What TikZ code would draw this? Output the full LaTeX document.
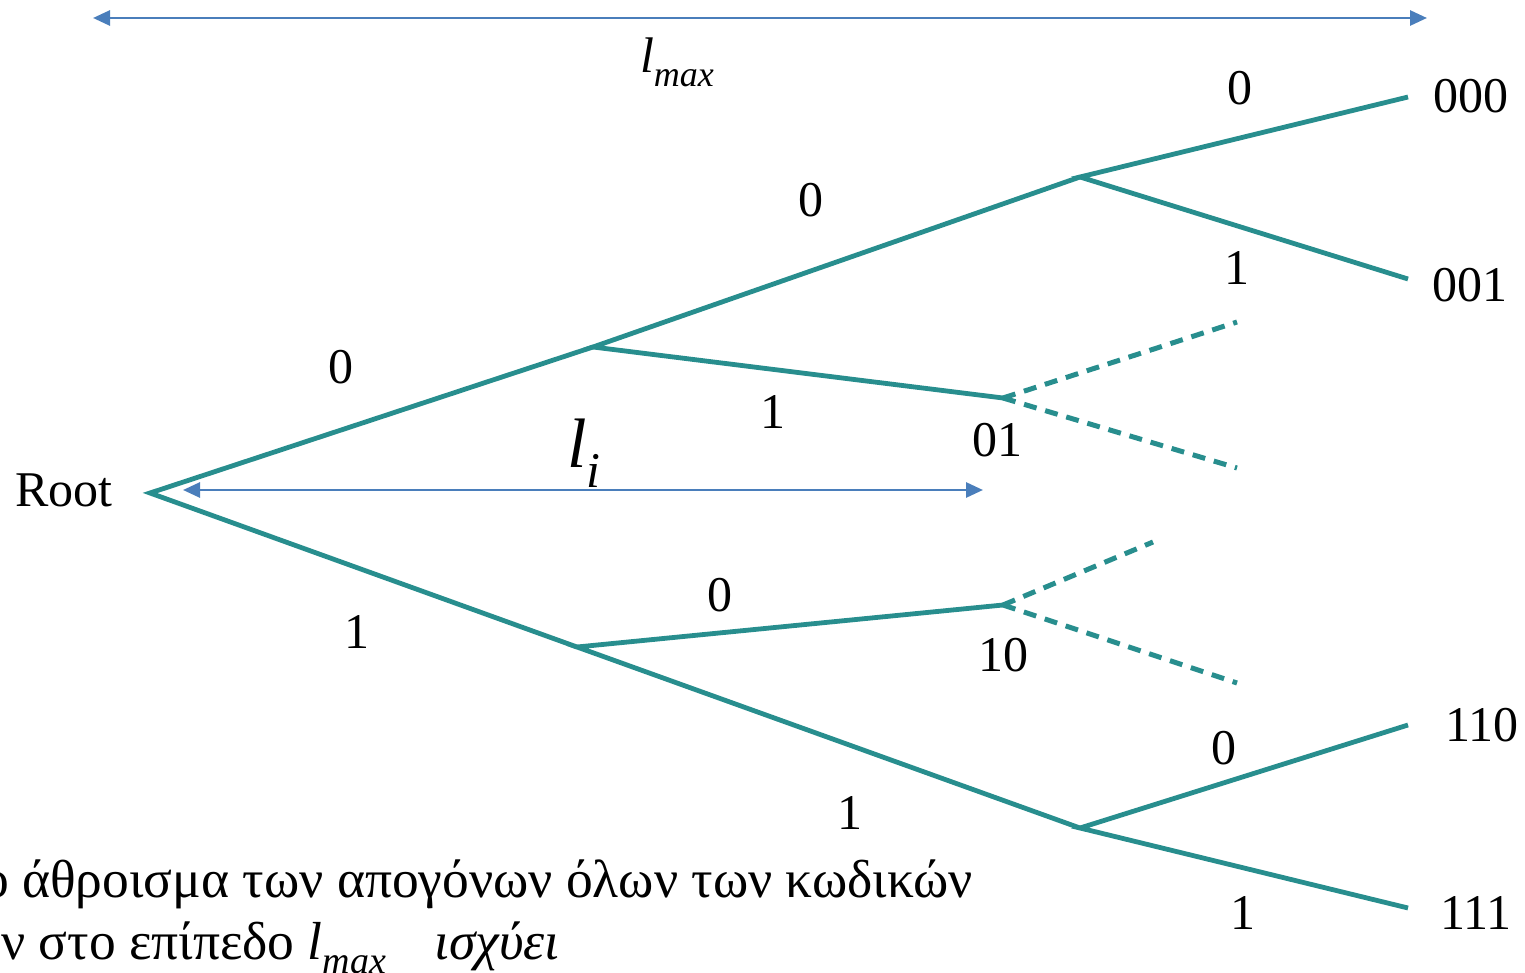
\documentclass[tikz,border=0pt]{standalone}
\usepackage{fontspec}
\setmainfont{Liberation Serif}
\usetikzlibrary{arrows.meta}
\definecolor{treeteal}{RGB}{40,142,142}
\definecolor{arrowblue}{RGB}{74,126,187}
\newcommand{\lsub}[2]{\textit{l}\raisebox{-0.28em}{\fontsize{#2}{#2}\selectfont\textit{#1}}}
\begin{document}
\begin{tikzpicture}[x=1pt,y=-1pt,
  branch/.style={draw=treeteal,line width=4.8pt},
  dashbranch/.style={draw=treeteal,line width=5pt,dash pattern=on 13pt off 9pt},
  lbl/.style={font=\fontsize{50}{60}\selectfont,inner sep=0pt,text=black},
  greek/.style={font=\fontsize{53.5}{60}\selectfont,inner sep=0pt,text=black,anchor=base west},
  measure/.style={draw=arrowblue,line width=2.8pt,{Triangle[length=17pt,width=15pt]}-{Triangle[length=17pt,width=15pt]}}]
\useasboundingbox (0,0) rectangle (1525,973);
\clip (0,0) rectangle (1525,973);
% tree points
\coordinate (root) at (150,493);
\coordinate (n0) at (593,347);
\coordinate (n1) at (577,647);
\coordinate (n00) at (1080,177);
\coordinate (n01) at (1003,398);
\coordinate (n10) at (1003,605);
\coordinate (n11) at (1080,828);
\coordinate (n000) at (1408,97);
\coordinate (n001) at (1408,279);
\coordinate (n110) at (1408,725);
\coordinate (n111) at (1408,908);
\coordinate (d010) at (1237,322);
\coordinate (d011) at (1237,468);
\coordinate (d100) at (1153,542);
\coordinate (d101) at (1237,683);
% branches
\draw[branch] (n0) -- (root) -- (n1);
\draw[branch] (n00) -- (n0) -- (n01);
\draw[branch] (n10) -- (n1) -- (n11);
\draw[branch] (n000) -- (n00) -- (n001);
\draw[branch] (n110) -- (n11) -- (n111);
\draw[dashbranch] (n01) -- (d010);
\draw[dashbranch] (n01) -- (d011);
\draw[dashbranch] (n10) -- (d100);
\draw[dashbranch] (n10) -- (d101);
% node labels
\node[lbl] (troot) at (64,490) {Root};
\node[lbl] (t000) at (1471,96) {000};
\node[lbl] (t001) at (1470,285) {001};
\node[lbl] (t110) at (1482,725) {110};
\node[lbl] (t111) at (1476,913) {111};
\node[lbl] (t01) at (997,440) {01};
\node[lbl] (t10) at (1003,655) {10};
% edge labels
\node[lbl] (e0) at (341,367) {0};
\node[lbl] (e1) at (357,632) {1};
\node[lbl] (e00) at (811,200) {0};
\node[lbl] (e01) at (773,412) {1};
\node[lbl] (e10) at (720,595) {0};
\node[lbl] (e11) at (850,813) {1};
\node[lbl] (e000) at (1240,88) {0};
\node[lbl] (e001) at (1237,268) {1};
\node[lbl] (e110) at (1224,748) {0};
\node[lbl] (e111) at (1243,913) {1};
% measurement arrows
\coordinate (lmaxL) at (93,18);
\coordinate (lmaxR) at (1427,18);
\draw[measure] (lmaxL) -- (lmaxR);
\node[lbl] (tlmax) at (677,62) {\lsub{max}{36}};
\coordinate (liL) at (183,490);
\coordinate (liR) at (983,490);
\draw[measure] (liL) -- (liR);
\node[lbl,font=\fontsize{70}{80}\selectfont] (tli) at (584,453) {\lsub{i}{50}};
% bottom text (cut off at the left edge, as in the reference)
\node[greek] (line1) at (-18,897) {ο άθροισμα των απογόνων όλων των κωδικών};
\node[greek] (line2) at (1,959) {ν στο επίπεδο \lsub{max}{38}\hspace{0.9em}\textit{ισχύει}};
\end{tikzpicture}
\end{document}
